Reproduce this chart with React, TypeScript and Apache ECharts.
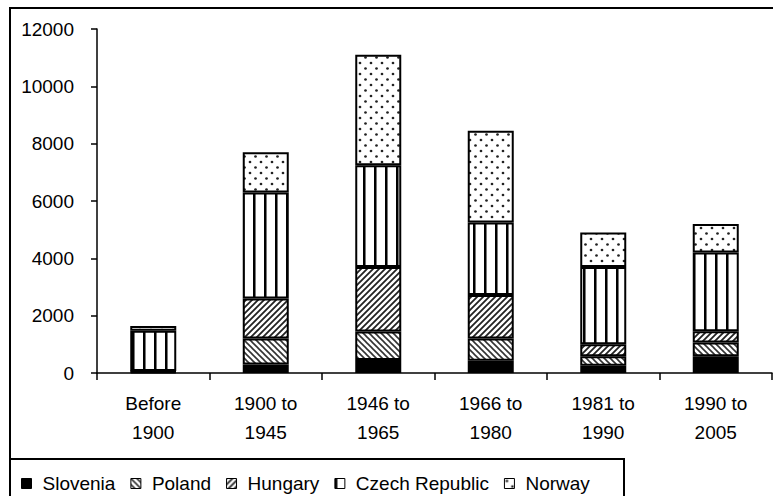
import React, { useEffect, useRef } from "react";
import * as echarts from "echarts";

const categories = [
  "Before\n1900",
  "1900 to\n1945",
  "1946 to\n1965",
  "1966 to\n1980",
  "1981 to\n1990",
  "1990 to\n2005",
];
const slovenia = [30, 300, 450, 430, 250, 580];
const poland = [20, 900, 1000, 770, 330, 480];
const hungary = [20, 1400, 2250, 1520, 420, 400];
const czech = [1400, 3700, 3550, 2530, 2700, 2740];
const norway = [170, 1400, 3850, 3200, 1200, 1000];
const seriesNames = ["Slovenia", "Poland", "Hungary", "Czech Republic", "Norway"];
const yMin = 0;
const yMax = 12000;
const yInterval = 2000;

const FONT = "'Liberation Sans', Arial, sans-serif";

function makeCanvas(w: number, h: number, draw: (ctx: CanvasRenderingContext2D) => void) {
  const c = document.createElement("canvas");
  c.width = w;
  c.height = h;
  const ctx = c.getContext("2d")!;
  ctx.fillStyle = "#ffffff";
  ctx.fillRect(0, 0, w, h);
  draw(ctx);
  return c;
}

function diagonal(dir: "up" | "down", size: number, lw: number, color: string) {
  return makeCanvas(size, size, (ctx) => {
    ctx.strokeStyle = color;
    ctx.lineWidth = lw;
    ctx.lineCap = "square";
    const segs =
      dir === "up"
        ? [
            [-size, size, size, -size],
            [0, size, size, 0],
            [0, 2 * size, 2 * size, 0],
          ]
        : [
            [-size, 0, size, 2 * size],
            [0, 0, size, size],
            [0, -size, 2 * size, size],
          ];
    segs.forEach(([x1, y1, x2, y2]) => {
      ctx.beginPath();
      ctx.moveTo(x1, y1);
      ctx.lineTo(x2, y2);
      ctx.stroke();
    });
  });
}

function vertical() {
  return makeCanvas(11, 4, (ctx) => {
    ctx.fillStyle = "#000";
    ctx.fillRect(0, 0, 2, 4);
    ctx.fillStyle = "#777";
    ctx.fillRect(2, 0, 1, 4);
  });
}

function dots() {
  return makeCanvas(11, 11, (ctx) => {
    ctx.fillStyle = "#222";
    [
      [2.5, 2.5],
      [8, 8],
    ].forEach(([x, y]) => {
      ctx.beginPath();
      ctx.arc(x, y, 1.35, 0, Math.PI * 2);
      ctx.fill();
    });
  });
}

export default function App() {
  const ref = useRef<HTMLDivElement>(null);
  useEffect(() => {
    if (!ref.current) return;
    const chart = echarts.init(ref.current, undefined, { renderer: "svg" });
    const fills: any[] = [
      "#000000",
      { image: diagonal("down", 6, 1.6, "#333"), repeat: "repeat" },
      { image: diagonal("up", 6, 1.8, "#222"), repeat: "repeat" },
      { image: vertical(), repeat: "repeat" },
      { image: dots(), repeat: "repeat" },
    ];
    const values = [slovenia, poland, hungary, czech, norway];
    chart.setOption({
      animation: false,
      backgroundColor: "#ffffff",
      textStyle: { fontFamily: FONT },
      grid: { left: 97, right: 1, top: 29, bottom: 123, containLabel: false },
      legend: {
        left: 16,
        top: 469,
        icon: "rect",
        itemWidth: 10,
        itemHeight: 10,
        itemGap: 15,
        data: seriesNames,
        itemStyle: { borderColor: "#000", borderWidth: 1 },
        textStyle: { fontSize: 19, color: "#000", fontFamily: FONT, padding: [0, 0, 0, 6] },
      },
      xAxis: {
        type: "category",
        data: categories,
        axisLine: { lineStyle: { color: "#000", width: 1.5 } },
        axisTick: { show: true, length: 7, lineStyle: { color: "#000", width: 1.5 } },
        axisLabel: {
          color: "#000",
          fontSize: 19,
          lineHeight: 29,
          margin: 16,
          fontFamily: FONT,
          interval: 0,
        },
      },
      yAxis: {
        type: "value",
        min: yMin,
        max: yMax,
        interval: yInterval,
        splitLine: { show: false },
        axisLine: { show: true, lineStyle: { color: "#000", width: 1.5 } },
        axisTick: { show: true, length: 6, lineStyle: { color: "#000", width: 1.5 } },
        axisLabel: {
          color: "#000",
          fontSize: 19,
          margin: 23,
          fontFamily: FONT,
          formatter: (v: number) => String(v),
        },
      },
      graphic: [
        {
          type: "rect",
          shape: { x: 10, y: 8, width: 820, height: 540 },
          style: { fill: "none", stroke: "#000", lineWidth: 2 },
          silent: true,
        },
        {
          type: "rect",
          shape: { x: 10, y: 459, width: 614, height: 60 },
          style: { fill: "none", stroke: "#000", lineWidth: 2 },
          silent: true,
        },
      ],
      series: seriesNames.map((name, i) => ({
        name,
        type: "bar",
        stack: "total",
        barWidth: 46,
        data: values[i],
        itemStyle: { color: fills[i], borderColor: "#000", borderWidth: 2 },
        emphasis: { disabled: true },
      })),
    });
    return () => chart.dispose();
  }, []);
  return (
    <div
      ref={ref}
      style={{ position: "fixed", left: 0, top: 0, width: 773, height: 496, background: "#fff" }}
    />
  );
}
